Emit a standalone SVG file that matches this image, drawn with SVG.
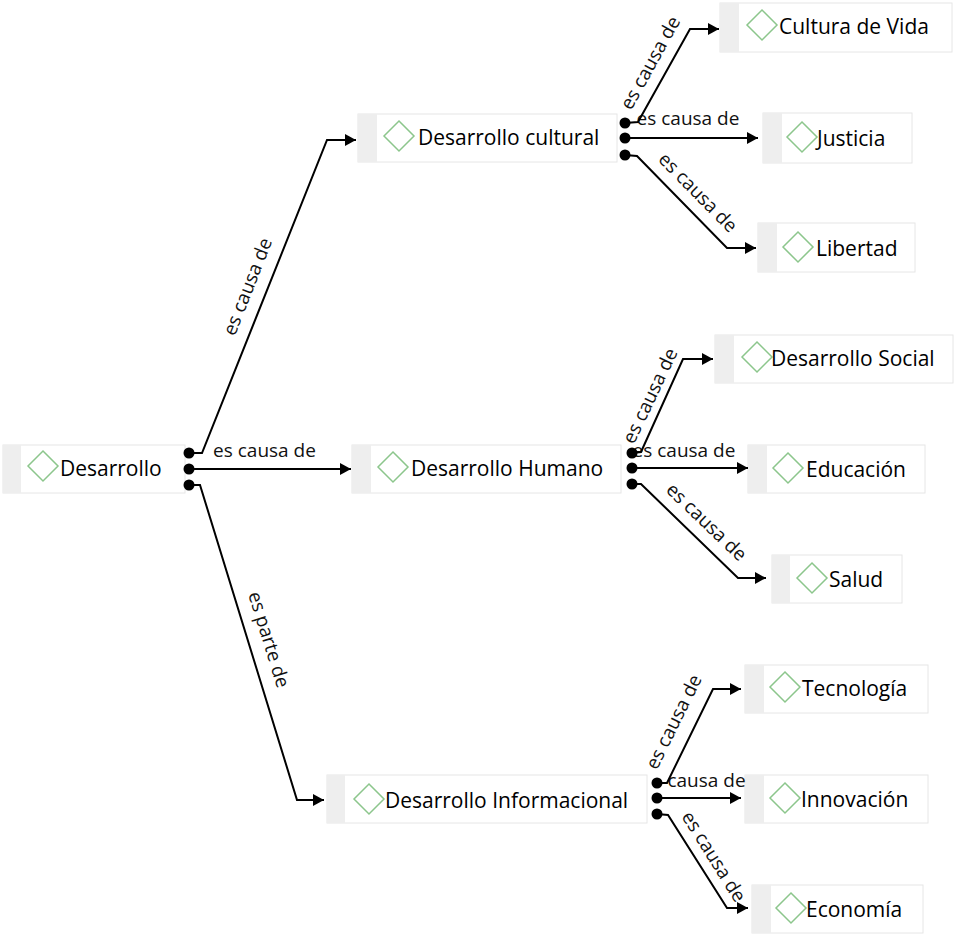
<svg xmlns="http://www.w3.org/2000/svg" width="955" height="935" viewBox="0 0 955 935">
<defs>
<style>
.box{fill:#ffffff;stroke:#e6e6e6;stroke-width:1}
.strip{fill:#eeeeee}
.dia{fill:#ffffff;stroke:#8cc68c;stroke-width:1.5}
.nt{font-family:"Open Sans","Noto Sans",sans-serif;font-size:21px;fill:#000000}
.lt{font-family:"Open Sans","Noto Sans",sans-serif;font-size:19px;fill:#111111}
.ln{fill:none;stroke:#000000;stroke-width:2;marker-end:url(#arr)}
.dot{fill:#000000}
</style>
<marker id="arr" markerUnits="userSpaceOnUse" markerWidth="12" markerHeight="14" refX="11" refY="7" orient="auto">
<path d="M0,1 L11,7 L0,13 z" fill="#000000"/>
</marker>
</defs>
<rect width="955" height="935" fill="#ffffff"/>

<g id="n-desarrollo">
<rect class="box" x="3" y="445" width="182" height="48"/><rect class="strip" x="3" y="445" width="18" height="48"/>
<polygon class="dia" points="43,451 58,466 43,481 28,466"/>
<text class="nt" x="60" y="476">Desarrollo</text>
</g>
<g id="n-cultural">
<rect class="box" x="358" y="114" width="259" height="48"/><rect class="strip" x="358" y="114" width="19" height="48"/>
<polygon class="dia" points="399,121 414,136 399,151 384,136"/>
<text class="nt" x="418" y="145">Desarrollo cultural</text>
</g>
<g id="n-humano">
<rect class="box" x="352" y="445" width="269" height="48"/><rect class="strip" x="352" y="445" width="19" height="48"/>
<polygon class="dia" points="393,452 408,467 393,482 378,467"/>
<text class="nt" x="411" y="476">Desarrollo Humano</text>
</g>
<g id="n-informacional">
<rect class="box" x="327" y="775" width="320" height="48"/><rect class="strip" x="327" y="775" width="18" height="48"/>
<polygon class="dia" points="369,784 384,799 369,814 354,799"/>
<text class="nt" x="385" y="808">Desarrollo Informacional</text>
</g>
<g id="n-cultura-vida">
<rect class="box" x="720" y="3" width="232" height="49"/><rect class="strip" x="720" y="3" width="19" height="49"/>
<polygon class="dia" points="762,10 777,25 762,40 747,25"/>
<text class="nt" x="779" y="34">Cultura de Vida</text>
</g>
<g id="n-justicia">
<rect class="box" x="763" y="113" width="149" height="50"/><rect class="strip" x="763" y="113" width="19" height="50"/>
<polygon class="dia" points="802,122 817,137 802,152 787,137"/>
<text class="nt" x="817" y="146">Justicia</text>
</g>
<g id="n-libertad">
<rect class="box" x="758" y="223" width="157" height="49"/><rect class="strip" x="758" y="223" width="19" height="49"/>
<polygon class="dia" points="798,232 813,247 798,262 783,247"/>
<text class="nt" x="816" y="256">Libertad</text>
</g>
<g id="n-social">
<rect class="box" x="715" y="335" width="238" height="48"/><rect class="strip" x="715" y="335" width="19" height="48"/>
<polygon class="dia" points="757,342 772,357 757,372 742,357"/>
<text class="nt" x="771" y="366">Desarrollo Social</text>
</g>
<g id="n-educacion">
<rect class="box" x="748" y="445" width="177" height="48"/><rect class="strip" x="748" y="445" width="19" height="48"/>
<polygon class="dia" points="788,453 803,468 788,483 773,468"/>
<text class="nt" x="806" y="477">Educación</text>
</g>
<g id="n-salud">
<rect class="box" x="772" y="555" width="130" height="48"/><rect class="strip" x="772" y="555" width="18" height="48"/>
<polygon class="dia" points="812,563 827,578 812,593 797,578"/>
<text class="nt" x="829" y="587">Salud</text>
</g>
<g id="n-tecnologia">
<rect class="box" x="745" y="665" width="183" height="48"/><rect class="strip" x="745" y="665" width="19" height="48"/>
<polygon class="dia" points="785,672 800,687 785,702 770,687"/>
<text class="nt" x="802" y="696">Tecnología</text>
</g>
<g id="n-innovacion">
<rect class="box" x="745" y="775" width="183" height="48"/><rect class="strip" x="745" y="775" width="19" height="48"/>
<polygon class="dia" points="785,783 800,798 785,813 770,798"/>
<text class="nt" x="801" y="807">Innovación</text>
</g>
<g id="n-economia">
<rect class="box" x="752" y="885" width="171" height="48"/><rect class="strip" x="752" y="885" width="19" height="48"/>
<polygon class="dia" points="791,893 806,908 791,923 776,908"/>
<text class="nt" x="806" y="917">Economía</text>
</g>

<g id="connectors">
<g class="labels">
<text class="lt" text-anchor="middle" transform="translate(253.6,289) rotate(-68.4)">es causa de</text>
<text class="lt" text-anchor="middle" x="264.5" y="457">es causa de</text>
<text class="lt" text-anchor="middle" transform="translate(262.7,641.5) rotate(72.9)">es parte de</text>
<text class="lt" text-anchor="middle" transform="translate(656,66) rotate(-61)">es causa de</text>
<text class="lt" text-anchor="middle" x="688" y="125">es causa de</text>
<text class="lt" text-anchor="middle" transform="translate(693.4,197) rotate(45.5)">es causa de</text>
<text class="lt" text-anchor="middle" transform="translate(656,398.6) rotate(-64.5)">es causa de</text>
<text class="lt" text-anchor="middle" x="684" y="457">es causa de</text>
<text class="lt" text-anchor="middle" transform="translate(702,526.6) rotate(43.8)">es causa de</text>
<text class="lt" text-anchor="middle" transform="translate(679.5,724.7) rotate(-63.6)">es causa de</text>
<text class="lt" text-anchor="middle" x="706.5" y="787">causa de</text>
<text class="lt" text-anchor="middle" transform="translate(708.3,860) rotate(58)">es causa de</text>
</g>
<path class="ln" d="M189,453 L202,453 L327,140 L356,140"/>
<path class="ln" d="M189,469 L351,469"/>
<path class="ln" d="M189,485 L200,485 L297,800 L324,800"/>
<path class="ln" d="M625,123 L638,122 L690,29 L719,29"/>
<path class="ln" d="M625,138 L758,138"/>
<path class="ln" d="M625,155 L637,156 L727,248 L756,248"/>
<path class="ln" d="M632,453 L641,452 L683,359 L713,359"/>
<path class="ln" d="M632,468 L748,468"/>
<path class="ln" d="M632,484 L641,484 L738,578 L766,578"/>
<path class="ln" d="M657,783 L667,783 L713,689 L741,689"/>
<path class="ln" d="M657,798 L741,798"/>
<path class="ln" d="M657,814 L668,815 L727,908 L748,908"/>
<circle class="dot" cx="189" cy="453" r="5.5"/><circle class="dot" cx="189" cy="469" r="5.5"/><circle class="dot" cx="189" cy="485" r="5.5"/>
<circle class="dot" cx="625" cy="123" r="5.5"/><circle class="dot" cx="625" cy="138" r="5.5"/><circle class="dot" cx="625" cy="155" r="5.5"/>
<circle class="dot" cx="632" cy="453" r="5.5"/><circle class="dot" cx="632" cy="468" r="5.5"/><circle class="dot" cx="632" cy="484" r="5.5"/>
<circle class="dot" cx="657" cy="783" r="5.5"/><circle class="dot" cx="657" cy="798" r="5.5"/><circle class="dot" cx="657" cy="814" r="5.5"/>
</g>
</svg>
